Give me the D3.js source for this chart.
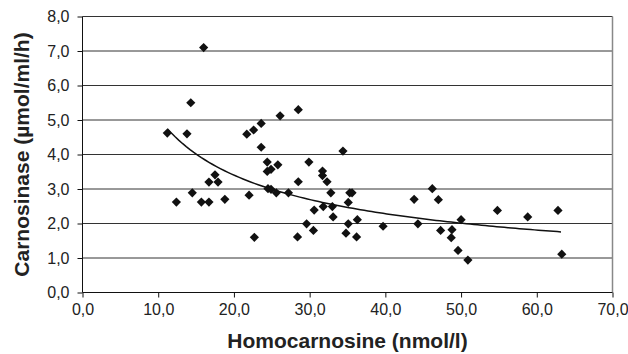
<!DOCTYPE html>
<html lang="en">
<head>
<meta charset="utf-8">
<title>Carnosinase vs Homocarnosine</title>
<style>
  body { margin: 0; background: white; font-family: "Liberation Sans", Arial, Helvetica, sans-serif; }
  .tick-label { font-size: 16px; fill: #222; }
  .axis-title { font-size: 21px; font-weight: bold; fill: #222; }
</style>
</head>
<body>
<div id="chart"></div>
<script src="https://d3js.org/d3.v7.min.js"></script>
<script>

// homocarnosine (nmol/l) and carnosinase (umol/ml/h)
var homocarnosine = [
  11.2, 12.4, 13.8, 14.3, 14.5, 15.7, 16.0, 16.7, 16.7, 17.5, 17.9, 18.8,
  21.7, 22.0, 22.6, 22.7, 23.6, 23.6, 24.4, 24.4, 24.9, 24.5, 24.9, 25.6,
  25.8, 26.1, 27.2, 28.5, 28.4, 28.5, 29.6, 29.9, 30.5, 30.6, 31.7, 31.7,
  31.8, 32.3, 32.8, 33.0, 33.1, 34.4, 34.8, 35.1, 35.1, 35.3, 35.6, 36.3,
  36.2, 39.7, 43.8, 44.3, 46.2, 47.0, 47.3, 48.8, 48.7, 50.0, 49.6, 50.9,
  54.8, 58.8, 62.8, 63.3
];
var carnosinase = [
  4.62, 2.62, 4.60, 5.50, 2.89, 2.62, 7.10, 2.62, 3.20, 3.41, 3.20, 2.70,
  4.59, 2.82, 4.71, 1.60, 4.90, 4.21, 3.78, 3.51, 3.57, 3.01, 2.99, 2.89,
  3.70, 5.12, 2.89, 5.30, 1.61, 3.21, 1.99, 3.78, 1.80, 2.39, 3.52, 3.39,
  2.49, 3.21, 2.89, 2.49, 2.19, 4.10, 1.72, 2.61, 1.99, 2.89, 2.89, 2.11,
  1.61, 1.92, 2.70, 1.99, 3.01, 2.69, 1.80, 1.82, 1.59, 2.11, 1.22, 0.94,
  2.38, 2.19, 2.38, 1.11
];
var xTicks = [0, 10, 20, 30, 40, 50, 60, 70];
var yTicks = [0, 1, 2, 3, 4, 5, 6, 7, 8];
var xTitle = "Homocarnosine (nmol/l)";
var yTitle = "Carnosinase (µmol/ml/h)";

var width = 628, height = 354;
var margin = { left: 82.5, right: 15.5, top: 16.5, bottom: 61.5 };

var svg = d3.select("#chart").append("svg")
  .attr("width", width)
  .attr("height", height);

var x = d3.scaleLinear().domain([0, 70]).range([margin.left, width - margin.right]);
var y = d3.scaleLinear().domain([0, 8]).range([height - margin.bottom, margin.top]);

var fmt = function(v) { return d3.format(".1f")(v).replace(".", ","); };

var points = homocarnosine.map(function(h, i) { return { h: h, c: carnosinase[i] }; });

// gridlines
svg.append("g").selectAll("line")
  .data(yTicks.filter(function(t) { return t > 0; }))
  .enter().append("line")
  .attr("x1", x(0)).attr("x2", x(70))
  .attr("y1", function(d) { return y(d); })
  .attr("y2", function(d) { return y(d); })
  .attr("stroke", "#333")
  .attr("stroke-width", 1);

// right border
svg.append("line")
  .attr("x1", x(70)).attr("x2", x(70))
  .attr("y1", y(8)).attr("y2", y(0))
  .attr("stroke", "#888")
  .attr("stroke-width", 1.5);

// axes
var xAxis = d3.axisBottom(x).tickValues(xTicks).tickSize(5).tickFormat(fmt);
var yAxis = d3.axisLeft(y).tickValues(yTicks).tickSize(5).tickFormat(fmt);

var gx = svg.append("g")
  .attr("transform", "translate(0," + y(0) + ")")
  .call(xAxis);
gx.select(".domain").attr("stroke", "#111").attr("d", "M" + x(0) + ",0H" + x(70));
gx.selectAll(".tick line").attr("stroke", "#111");
gx.selectAll(".tick text")
  .attr("class", "tick-label")
  .attr("y", 10).attr("dy", "0.75em")
  .attr("font-family", null).attr("font-size", null);

var gy = svg.append("g")
  .attr("transform", "translate(" + x(0) + ",0)")
  .call(yAxis);
gy.select(".domain").attr("stroke", "#111").attr("d", "M0," + y(0) + "V" + y(8));
gy.selectAll(".tick line").attr("stroke", "#111");
gy.selectAll(".tick text")
  .attr("class", "tick-label")
  .attr("x", -13)
  .attr("font-family", null).attr("font-size", null);

// power trendline, least squares on ln x / ln y (as a spreadsheet would)
var lx = points.map(function(p) { return Math.log(p.h); });
var ly = points.map(function(p) { return Math.log(p.c); });
var mx = d3.mean(lx), my = d3.mean(ly);
var b = d3.sum(lx, function(v, i) { return (v - mx) * (ly[i] - my); }) /
        d3.sum(lx, function(v) { return (v - mx) * (v - mx); });
var a = Math.exp(my - b * mx);
var ext = d3.extent(homocarnosine);
var trend = d3.range(ext[0], ext[1] + 0.01, 0.5).map(function(h) { return { h: h, c: a * Math.pow(h, b) }; });

svg.append("path")
  .datum(trend)
  .attr("fill", "none")
  .attr("stroke", "#111")
  .attr("stroke-width", 1.5)
  .attr("d", d3.line().x(function(d) { return x(d.h); }).y(function(d) { return y(d.c); }));

// diamond markers
svg.append("g").selectAll("path")
  .data(points)
  .enter().append("path")
  .attr("d", "M0,-4.6L4.6,0L0,4.6L-4.6,0Z")
  .attr("fill", "#111")
  .attr("transform", function(d) { return "translate(" + x(d.h) + "," + y(d.c) + ")"; });

// titles
svg.append("text")
  .attr("class", "axis-title")
  .attr("text-anchor", "middle")
  .attr("x", (x(0) + x(70)) / 2)
  .attr("y", 348)
  .text(xTitle);

svg.append("text")
  .attr("class", "axis-title")
  .attr("text-anchor", "middle")
  .attr("transform", "translate(29," + (y(0) + y(8)) / 2 + ") rotate(-90)")
  .text(yTitle);

</script>
</body>
</html>
